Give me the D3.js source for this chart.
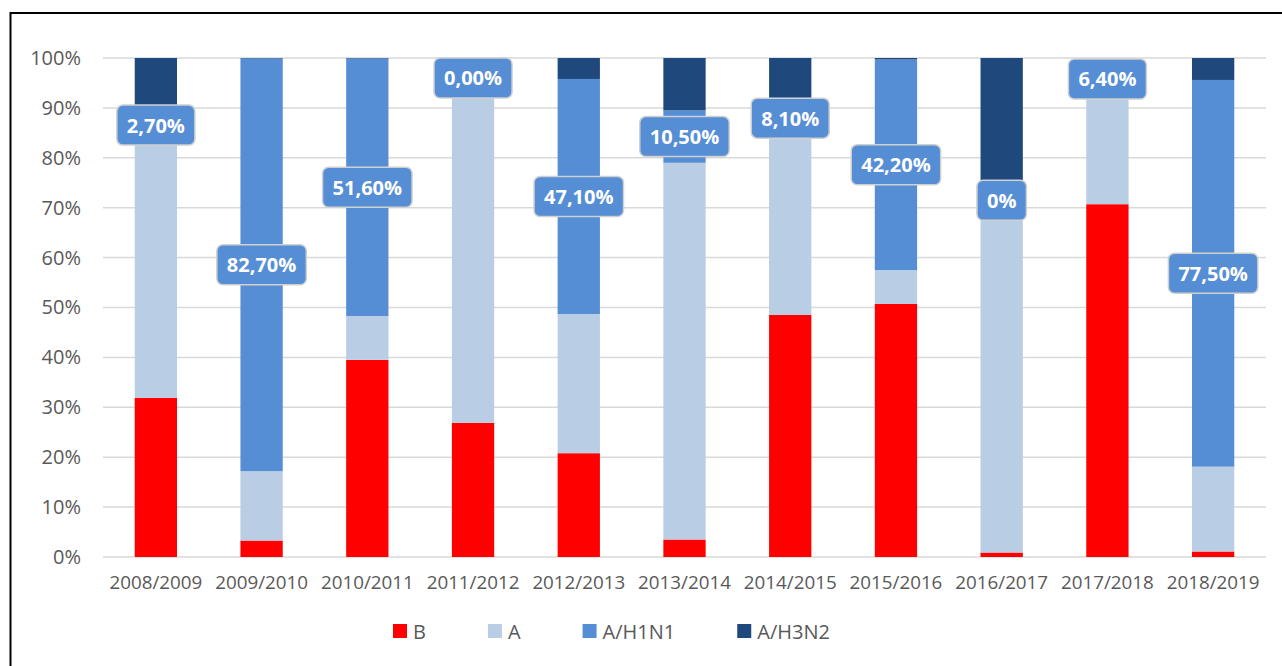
<!DOCTYPE html>
<html>
<head>
<meta charset="utf-8">
<script src="https://cdn.jsdelivr.net/npm/d3@7"></script>
<style>
  html, body { margin: 0; padding: 0; background: #fff; }
  svg { display: block; }
</style>
</head>
<body>
<div id="chart"></div>
<script>
// seasons and share of each virus type (%)
const seasons = ["2008/2009", "2009/2010", "2010/2011", "2011/2012", "2012/2013", "2013/2014",
  "2014/2015", "2015/2016", "2016/2017", "2017/2018", "2018/2019"];
const bValues    = [31.9, 3.3, 39.5, 26.9, 20.8, 3.5, 48.5, 50.7, 0.9, 70.7, 1.1];
const aValues    = [53.3, 13.9, 8.8, 69.1, 27.9, 75.5, 35.4, 6.8, 70.6, 21.9, 17.0];
const h1n1Values = [2.7, 82.7, 51.6, 0.0, 47.1, 10.5, 8.1, 42.2, 0.0, 6.4, 77.5];
const h3n2Values = [12.1, 0.1, 0.1, 4.0, 4.2, 10.5, 8.0, 0.3, 28.5, 0.6, 4.4];
const labelTexts = ["2,70%", "82,70%", "51,60%", "0,00%", "47,10%", "10,50%", "8,10%", "42,20%", "0%", "6,40%", "77,50%"];
const yTicks = [0, 10, 20, 30, 40, 50, 60, 70, 80, 90, 100];

const keys = ["B", "A", "A/H1N1", "A/H3N2"];
const colors = ["#ff0000", "#b9cde5", "#558ed5", "#1f497d"];

const rows = seasons.map((s, i) => ({
  season: s,
  "B": bValues[i],
  "A": aValues[i],
  "A/H1N1": h1n1Values[i],
  "A/H3N2": h3n2Values[i]
}));

const width = 1282, height = 666;
const plotLeft = 103, plotRight = 1266, plotTop = 58, plotBottom = 557;
const font = "'Open Sans', 'Liberation Sans', sans-serif";

const svg = d3.select("#chart").append("svg")
  .attr("width", width)
  .attr("height", height);

// frame
svg.append("rect")
  .attr("x", 10.5)
  .attr("y", 13)
  .attr("width", 1300)
  .attr("height", 700)
  .attr("fill", "none")
  .attr("stroke", "#000")
  .attr("stroke-width", 2);

const x = d3.scaleBand()
  .domain(seasons)
  .range([plotLeft, plotRight])
  .paddingInner(0.6)
  .paddingOuter(0.3);

const y = d3.scaleLinear()
  .domain([0, 100])
  .range([plotBottom, plotTop]);

const color = d3.scaleOrdinal().domain(keys).range(colors);

// gridlines
svg.append("g")
  .selectAll("line")
  .data(yTicks)
  .enter()
    .append("line")
    .attr("x1", plotLeft)
    .attr("x2", plotRight)
    .attr("y1", d => y(d))
    .attr("y2", d => y(d))
    .attr("stroke", "#d9d9d9")
    .attr("stroke-width", 1.5);

// y axis labels
const yAxis = svg.append("g")
  .attr("transform", `translate(${plotLeft - 22},0)`)
  .call(d3.axisLeft(y).tickValues(yTicks).tickFormat(d => d + "%").tickSize(0).tickPadding(0));
yAxis.select(".domain").remove();
yAxis.selectAll("text")
  .attr("fill", "#595959")
  .style("font-family", font)
  .style("font-size", "20px");

// x axis labels
const xAxis = svg.append("g")
  .attr("transform", `translate(0,${plotBottom})`)
  .call(d3.axisBottom(x).tickSize(0).tickPadding(19));
xAxis.select(".domain").remove();
xAxis.selectAll("text")
  .attr("fill", "#595959")
  .style("font-family", font)
  .style("font-size", "18.8px");

// stacked bars
const series = d3.stack().keys(keys)(rows);

svg.append("g")
  .selectAll("g")
  .data(series)
  .enter()
    .append("g")
    .attr("fill", d => color(d.key))
  .selectAll("rect")
  .data(d => d)
  .enter()
    .append("rect")
    .attr("x", d => x(d.data.season))
    .attr("width", x.bandwidth())
    .attr("y", d => y(d[1]))
    .attr("height", d => y(d[0]) - y(d[1]));

// data labels on the A/H1N1 segment
const h1n1 = series.find(s => s.key === "A/H1N1");
const label = svg.append("g")
  .selectAll("g")
  .data(h1n1.map((d, i) => ({ d, text: labelTexts[i] })))
  .enter()
    .append("g")
    .attr("transform", o => `translate(${x(o.d.data.season) + x.bandwidth() / 2},${y((o.d[0] + o.d[1]) / 2)})`);

label.append("rect")
  .attr("fill", "#558ed5")
  .attr("stroke", "#d0d0d0")
  .attr("stroke-width", 1.5)
  .attr("rx", 6)
  .attr("ry", 6);

label.append("text")
  .text(o => o.text)
  .attr("fill", "#fff")
  .attr("dominant-baseline", "central")
  .style("text-anchor", "middle")
  .style("font-family", font)
  .style("font-weight", "bold")
  .style("font-size", "20px");

label.each(function () {
  const g = d3.select(this);
  const w = g.select("text").node().getComputedTextLength() + 20;
  g.select("rect")
    .attr("x", -w / 2)
    .attr("y", -20)
    .attr("width", w)
    .attr("height", 40);
});

// legend
const legend = svg.append("g")
  .attr("transform", "translate(393,631)");
let lx = 0;
keys.forEach(k => {
  const item = legend.append("g").attr("transform", `translate(${lx},0)`);
  item.append("rect")
    .attr("x", 0)
    .attr("y", -7)
    .attr("width", 14)
    .attr("height", 14)
    .attr("fill", color(k));
  const t = item.append("text")
    .text(k)
    .attr("x", 20)
    .attr("dominant-baseline", "central")
    .attr("fill", "#595959")
    .style("font-family", font)
    .style("font-size", "20px");
  lx += 20 + t.node().getComputedTextLength() + 62;
});
</script>
</body>
</html>
